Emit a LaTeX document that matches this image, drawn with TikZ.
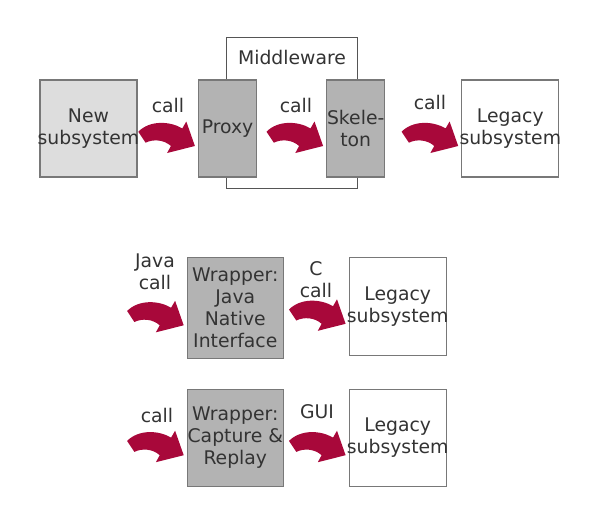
\documentclass[tikz,border=0pt]{standalone}
\usepackage{fontspec}
\setmainfont{DejaVu Sans}
\usetikzlibrary{calc}

\definecolor{callred}{RGB}{168,8,58}
\definecolor{boxline}{RGB}{120,120,120}
\definecolor{mwline}{RGB}{85,85,85}
\definecolor{lightfill}{RGB}{221,221,221}
\definecolor{darkfill}{RGB}{179,179,179}
\definecolor{txtgray}{RGB}{51,51,51}

\tikzset{
  txt/.style={text=txtgray, font=\fontsize{18.8}{22}\selectfont, align=center, inner sep=0pt},
  sysbox/.style={draw=boxline, line width=1.2pt, minimum width=97pt, minimum height=97pt, inner sep=0pt},
  stubbox/.style={sysbox, fill=darkfill, minimum width=58pt},
  wrapbox/.style={sysbox, fill=darkfill, minimum width=96pt},
  callarrow/.pic={
    \fill[callred] (-56.6,-14.3) .. controls (-45,-26) and (-25,-25) .. (-12.6,-17.6)
      -- (-8.6,-24.5) -- (0,0) -- (-27.8,7) -- (-24,0)
      .. controls (-31,-6.5) and (-42,-7) .. (-49.3,-3.3) -- cycle;
  }
}

\begin{document}
\begin{tikzpicture}[x=1pt, y=-1pt, line join=miter]
  \useasboundingbox (0,0) rectangle (599,525);

  % --- Middleware frame (behind proxy and skeleton) ---
  \node[draw=mwline, line width=1pt, minimum width=131pt, minimum height=151pt] (mw) at (291.5,112.5) {};
  \node[txt] (mwtitle) at (292,57) {Middleware};

  % --- Top row: remote call through middleware ---
  \node[sysbox, fill=lightfill, label={[txt]center:New\\subsystem}] (newsub) at (88.5,128.5) {};
  \node[stubbox, label={[txt]center:Proxy}] (proxy) at (227.5,128.5) {};
  \node[stubbox, label={[txt]center:Skele-\\ton}] (skeleton) at (355.7,128.5) {};
  \node[sysbox, fill=white, label={[txt]center:Legacy\\subsystem}] (legacytop) at (510.3,128.5) {};

  % --- Middle row: JNI wrapper ---
  \node[wrapbox, minimum height=101pt, label={[txt]center:Wrapper:\\Java\\Native\\Interface}] (jni) at (235.3,307.8) {};
  \node[sysbox, fill=white, minimum height=98pt, label={[txt]center:Legacy\\subsystem}] (legacymid) at (397.7,306.3) {};

  % --- Bottom row: capture & replay wrapper ---
  \node[wrapbox, label={[txt]center:Wrapper:\\Capture \&\\Replay}] (capture) at (235.3,437.7) {};
  \node[sysbox, fill=white, label={[txt]center:Legacy\\subsystem}] (legacybot) at (397.7,437.7) {};

  % --- Curved call arrows, tip just left of each target box ---
  \foreach \b in {proxy,skeleton,legacytop,jni,legacymid,capture,legacybot}
    \pic at ($(\b.west)+(-3,17.5)$) {callarrow};

  % --- Arrow labels ---
  \node[txt] (lcall1) at (168,105) {call};
  \node[txt] (lcall2) at (296,105) {call};
  \node[txt] (lcall3) at (430,102) {call};
  \node[txt] (ljava) at (155,272) {Java\\call};
  \node[txt] (lc) at (316,279.5) {C\\call};
  \node[txt] (lcall4) at (157,415) {call};
  \node[txt] (lgui) at (317,412) {GUI};
\end{tikzpicture}
\end{document}
